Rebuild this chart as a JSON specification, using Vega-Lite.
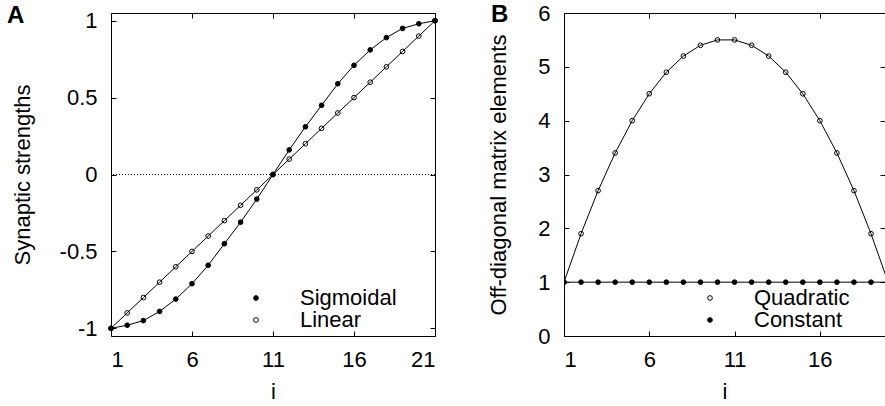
{
  "$schema": "https://vega.github.io/schema/vega-lite/v6.json",
  "padding": {"left": 7, "top": 2, "right": 0, "bottom": 0},
  "background": "white",
  "datasets": {
    "a": [
      {"i": 1, "value": -1, "series": "Sigmoidal"},
      {"i": 2, "value": -0.98, "series": "Sigmoidal"},
      {"i": 3, "value": -0.95, "series": "Sigmoidal"},
      {"i": 4, "value": -0.89, "series": "Sigmoidal"},
      {"i": 5, "value": -0.81, "series": "Sigmoidal"},
      {"i": 6, "value": -0.71, "series": "Sigmoidal"},
      {"i": 7, "value": -0.59, "series": "Sigmoidal"},
      {"i": 8, "value": -0.45, "series": "Sigmoidal"},
      {"i": 9, "value": -0.31, "series": "Sigmoidal"},
      {"i": 10, "value": -0.16, "series": "Sigmoidal"},
      {"i": 11, "value": 0, "series": "Sigmoidal"},
      {"i": 12, "value": 0.16, "series": "Sigmoidal"},
      {"i": 13, "value": 0.31, "series": "Sigmoidal"},
      {"i": 14, "value": 0.45, "series": "Sigmoidal"},
      {"i": 15, "value": 0.59, "series": "Sigmoidal"},
      {"i": 16, "value": 0.71, "series": "Sigmoidal"},
      {"i": 17, "value": 0.81, "series": "Sigmoidal"},
      {"i": 18, "value": 0.89, "series": "Sigmoidal"},
      {"i": 19, "value": 0.95, "series": "Sigmoidal"},
      {"i": 20, "value": 0.98, "series": "Sigmoidal"},
      {"i": 21, "value": 1, "series": "Sigmoidal"},
      {"i": 1, "value": -1, "series": "Linear"},
      {"i": 2, "value": -0.9, "series": "Linear"},
      {"i": 3, "value": -0.8, "series": "Linear"},
      {"i": 4, "value": -0.7, "series": "Linear"},
      {"i": 5, "value": -0.6, "series": "Linear"},
      {"i": 6, "value": -0.5, "series": "Linear"},
      {"i": 7, "value": -0.4, "series": "Linear"},
      {"i": 8, "value": -0.3, "series": "Linear"},
      {"i": 9, "value": -0.2, "series": "Linear"},
      {"i": 10, "value": -0.1, "series": "Linear"},
      {"i": 11, "value": 0, "series": "Linear"},
      {"i": 12, "value": 0.1, "series": "Linear"},
      {"i": 13, "value": 0.2, "series": "Linear"},
      {"i": 14, "value": 0.3, "series": "Linear"},
      {"i": 15, "value": 0.4, "series": "Linear"},
      {"i": 16, "value": 0.5, "series": "Linear"},
      {"i": 17, "value": 0.6, "series": "Linear"},
      {"i": 18, "value": 0.7, "series": "Linear"},
      {"i": 19, "value": 0.8, "series": "Linear"},
      {"i": 20, "value": 0.9, "series": "Linear"},
      {"i": 21, "value": 1, "series": "Linear"}
    ],
    "b": [
      {"i": 1, "value": 1, "series": "Quadratic"},
      {"i": 2, "value": 1.9, "series": "Quadratic"},
      {"i": 3, "value": 2.7, "series": "Quadratic"},
      {"i": 4, "value": 3.4, "series": "Quadratic"},
      {"i": 5, "value": 4.0, "series": "Quadratic"},
      {"i": 6, "value": 4.5, "series": "Quadratic"},
      {"i": 7, "value": 4.9, "series": "Quadratic"},
      {"i": 8, "value": 5.2, "series": "Quadratic"},
      {"i": 9, "value": 5.4, "series": "Quadratic"},
      {"i": 10, "value": 5.5, "series": "Quadratic"},
      {"i": 11, "value": 5.5, "series": "Quadratic"},
      {"i": 12, "value": 5.4, "series": "Quadratic"},
      {"i": 13, "value": 5.2, "series": "Quadratic"},
      {"i": 14, "value": 4.9, "series": "Quadratic"},
      {"i": 15, "value": 4.5, "series": "Quadratic"},
      {"i": 16, "value": 4.0, "series": "Quadratic"},
      {"i": 17, "value": 3.4, "series": "Quadratic"},
      {"i": 18, "value": 2.7, "series": "Quadratic"},
      {"i": 19, "value": 1.9, "series": "Quadratic"},
      {"i": 20, "value": 1.0, "series": "Quadratic"},
      {"i": 1, "value": 1, "series": "Constant"},
      {"i": 2, "value": 1, "series": "Constant"},
      {"i": 3, "value": 1, "series": "Constant"},
      {"i": 4, "value": 1, "series": "Constant"},
      {"i": 5, "value": 1, "series": "Constant"},
      {"i": 6, "value": 1, "series": "Constant"},
      {"i": 7, "value": 1, "series": "Constant"},
      {"i": 8, "value": 1, "series": "Constant"},
      {"i": 9, "value": 1, "series": "Constant"},
      {"i": 10, "value": 1, "series": "Constant"},
      {"i": 11, "value": 1, "series": "Constant"},
      {"i": 12, "value": 1, "series": "Constant"},
      {"i": 13, "value": 1, "series": "Constant"},
      {"i": 14, "value": 1, "series": "Constant"},
      {"i": 15, "value": 1, "series": "Constant"},
      {"i": 16, "value": 1, "series": "Constant"},
      {"i": 17, "value": 1, "series": "Constant"},
      {"i": 18, "value": 1, "series": "Constant"},
      {"i": 19, "value": 1, "series": "Constant"},
      {"i": 20, "value": 1, "series": "Constant"}
    ]
  },
  "config": {
    "font": "Liberation Sans",
    "view": {"stroke": null},
    "axis": {
      "labelFont": "Liberation Sans", "labelFontSize": 22, "labelColor": "black",
      "titleFont": "Liberation Sans", "titleFontSize": 22, "titleFontWeight": "normal", "titleColor": "black",
      "domainColor": "black", "domainWidth": 1,
      "tickColor": "black", "tickWidth": 1, "tickSize": -5,
      "grid": false
    },
    "legend": {
      "labelFont": "Liberation Sans", "labelFontSize": 22, "labelColor": "black",
      "symbolType": "circle", "symbolSize": 22, "symbolStrokeColor": "black", "symbolStrokeWidth": 1,
      "padding": 0, "rowPadding": -3, "labelOffset": 33
    },
    "title": {"font": "Liberation Sans", "fontSize": 24, "fontWeight": "bold", "color": "black"}
  },
  "resolve": {"scale": {"fill": "independent"}, "legend": {"fill": "independent"}},
  "hconcat": [
    {
      "width": 324, "height": 323,
      "title": {"text": "A", "anchor": "start", "frame": "group", "dx": -104, "dy": 26, "offset": -11, "baseline": "alphabetic"},
      "layer": [
        {
          "data": {"values": [{"y": 0}]},
          "mark": {"type": "rule", "strokeDash": [1, 2], "color": "black", "strokeWidth": 1},
          "encoding": {"y": {"field": "y", "type": "quantitative", "axis": null}}
        },
        {
          "data": {"name": "a"},
          "mark": {"type": "line", "color": "black", "strokeWidth": 1},
          "encoding": {
            "x": {"field": "i", "type": "quantitative", "axis": null},
            "y": {"field": "value", "type": "quantitative", "axis": null},
            "detail": {"field": "series"}
          }
        },
        {
          "data": {"name": "a"},
          "mark": {"type": "point", "filled": true, "stroke": "black", "strokeWidth": 1, "size": 22, "opacity": 1},
          "encoding": {
            "x": {"field": "i", "type": "quantitative", "title": "i",
                  "scale": {"domain": [1, 21], "nice": false, "zero": false},
                  "axis": {"orient": "bottom", "values": [1, 6, 11, 16, 21], "labelPadding": 18, "titlePadding": 11}},
            "y": {"field": "value", "type": "quantitative", "title": "Synaptic strengths",
                  "scale": {"domain": [-1.05, 1.05], "nice": false, "zero": false},
                  "axis": {"orient": "left", "values": [-1, -0.5, 0, 0.5, 1], "labelPadding": 19, "titlePadding": 25,
                           "labelExpr": "replace(format(datum.value, '~g'), '\u2212', '-')"}},
            "fill": {"field": "series", "type": "nominal", "title": null,
                     "scale": {"domain": ["Sigmoidal", "Linear"], "range": ["black", "transparent"]},
                     "legend": {"orient": "none", "legendX": 134, "legendY": 274}}
          }
        },
        {
          "data": {"name": "a"},
          "mark": {"type": "point", "opacity": 0},
          "encoding": {
            "x": {"field": "i", "type": "quantitative",
                  "axis": {"orient": "top", "values": [1, 6, 11, 16, 21], "labels": false, "title": null}},
            "y": {"field": "value", "type": "quantitative",
                  "axis": {"orient": "right", "values": [-1, -0.5, 0, 0.5, 1], "labels": false, "title": null}}
          }
        }
      ],
      "resolve": {"axis": {"x": "independent", "y": "independent"}}
    },
    {
      "width": 321, "height": 323,
      "title": {"text": "B", "anchor": "start", "frame": "group", "dx": -73, "dy": 33, "offset": -11, "baseline": "alphabetic"},
      "layer": [
        {
          "data": {"name": "b"},
          "mark": {"type": "line", "color": "black", "strokeWidth": 1, "clip": true},
          "encoding": {
            "x": {"field": "i", "type": "quantitative", "axis": null},
            "y": {"field": "value", "type": "quantitative", "axis": null},
            "detail": {"field": "series"}
          }
        },
        {
          "data": {"name": "b"},
          "mark": {"type": "point", "filled": true, "stroke": "black", "strokeWidth": 1, "size": 22, "opacity": 1, "clip": true},
          "encoding": {
            "x": {"field": "i", "type": "quantitative", "title": "i",
                  "scale": {"domain": [1, 19.82], "nice": false, "zero": false},
                  "axis": {"orient": "bottom", "values": [1, 6, 11, 16], "labelPadding": 18, "titlePadding": 11}},
            "y": {"field": "value", "type": "quantitative", "title": "Off-diagonal matrix elements",
                  "scale": {"domain": [0, 6], "nice": false, "zero": false},
                  "axis": {"orient": "left", "values": [0, 1, 2, 3, 4, 5, 6], "labelPadding": 19, "titlePadding": 27}},
            "fill": {"field": "series", "type": "nominal", "title": null,
                     "scale": {"domain": ["Quadratic", "Constant"], "range": ["transparent", "black"]},
                     "legend": {"orient": "none", "legendX": 135, "legendY": 274}}
          }
        },
        {
          "data": {"name": "b"},
          "mark": {"type": "point", "opacity": 0, "clip": true},
          "encoding": {
            "x": {"field": "i", "type": "quantitative",
                  "axis": {"orient": "top", "values": [1, 6, 11, 16], "labels": false, "title": null}},
            "y": {"field": "value", "type": "quantitative",
                  "axis": {"orient": "right", "values": [0, 1, 2, 3, 4, 5, 6], "labels": false, "title": null, "domain": false}}
          }
        }
      ],
      "resolve": {"axis": {"x": "independent", "y": "independent"}}
    }
  ],
  "spacing": 129,
  "bounds": "flush"
}
